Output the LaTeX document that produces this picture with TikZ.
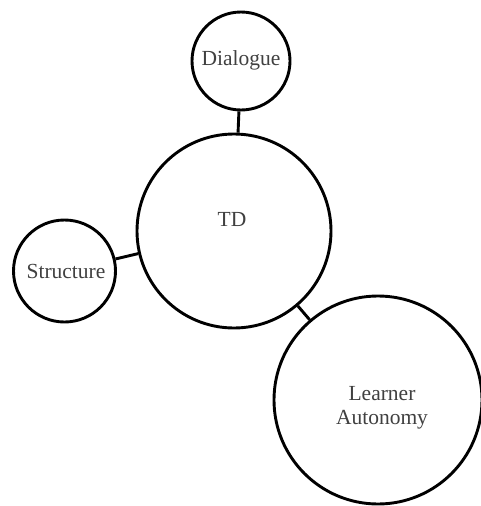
\documentclass[tikz,border=0pt]{standalone}
\usepackage{fontspec}
\setmainfont{Liberation Serif}
\begin{document}
\begin{tikzpicture}[x=1pt,y=-1pt,
  circ/.style={draw=black, line width=2.9pt, circle, inner sep=0pt, fill=white},
  lbl/.style={font=\fontsize{21.5}{24}\selectfont, text=black!75, align=center, inner sep=0pt},
  conn/.style={draw=black, line width=2.9pt}]
\useasboundingbox (0,0) rectangle (481,506);
\clip (0,0) rectangle (481,506);
\node[circ, minimum size=98pt] (D) at (241,61) {};
\node[circ, minimum size=194pt] (TD) at (234,231) {};
\node[circ, minimum size=102pt] (S) at (64.5,271) {};
\node[circ, minimum size=208pt] (LA) at (378,400) {};
\draw[conn] (D) -- (TD);
\draw[conn] (S) -- (TD);
\draw[conn] (TD) -- (LA);
\node[lbl] (Dt) at (241,60) {Dialogue};
\node[lbl] (TDt) at (232,219) {TD};
\node[lbl] (St) at (66,271) {Structure};
\node[lbl] (LAt) at (382,408) {Learner\\Autonomy};
\end{tikzpicture}
\end{document}
